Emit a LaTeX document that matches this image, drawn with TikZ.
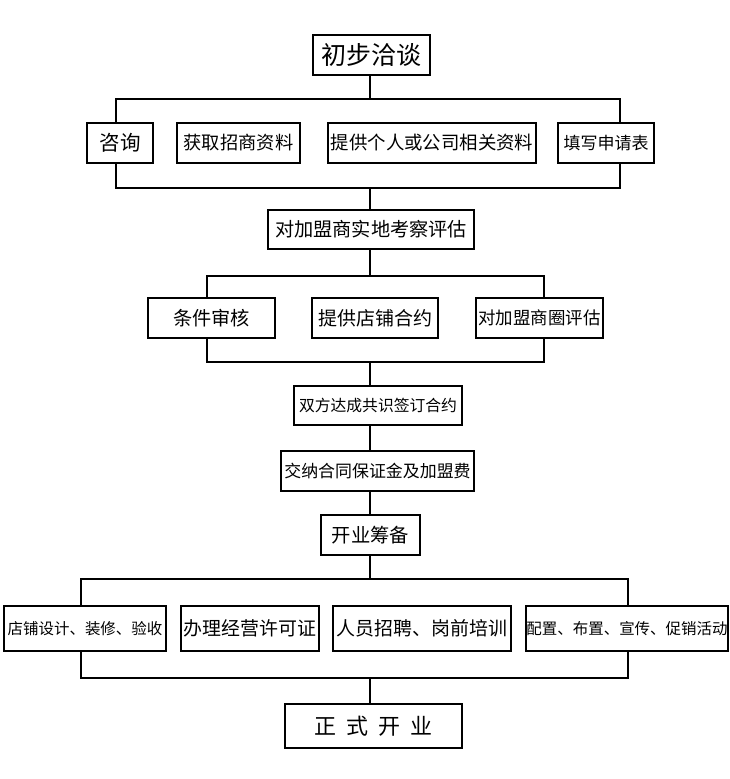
\documentclass[tikz,border=0pt]{standalone}
\usepackage{fontspec}
\newfontfamily\cjk{Noto Sans CJK SC}
\usetikzlibrary{positioning}

\begin{document}
\begin{tikzpicture}[
    x=0.75pt, y=-0.75pt,
    line width=1.5pt,
    box/.style={draw,inner sep=0pt,minimum height=30pt},
    sz/.style={font=\cjk\fontsize{#1}{#1}\selectfont}
]
\useasboundingbox (0,0) rectangle (730,779);

\node[box,sz=18.75,minimum width=87.75pt] (chubu) at (371.5,55) {初步洽谈};

\node[box,sz=15.4,minimum width=49.5pt] (zixun) at (120,143) {咨询};
\node[box,sz=13.7,minimum width=92.25pt] (huoqu) at (238.5,143) {获取招商资料};
\node[box,sz=13.8,minimum width=156pt] (tigong) at (432,143) {提供个人或公司相关资料};
\node[box,sz=12.75,minimum width=72pt] (tianxie) at (606,143) {填写申请表};

\node[box,sz=14.4,minimum width=154.5pt,minimum height=29.25pt] (kaocha) at (371,229.5) {对加盟商实地考察评估};

\node[box,sz=14.4,minimum width=95.25pt] (shenhe) at (211.5,318) {条件审核};
\node[box,sz=14.25,minimum width=94.5pt] (heyue) at (375,318) {提供店铺合约};
\node[box,sz=13.1,minimum width=95.25pt] (shangquan) at (539.5,318) {对加盟商圈评估};

\node[box,sz=11.85,minimum width=126pt,minimum height=29.25pt] (qianyue) at (378,405.5) {双方达成共识签订合约};
\node[box,sz=12.7,minimum width=144.75pt] (jiaona) at (377.5,471) {交纳合同保证金及加盟费};
\node[box,sz=14.5,minimum width=74.25pt] (choubei) at (370.5,535) {开业筹备};

\node[box,sz=11.6,minimum width=121.5pt,minimum height=33.75pt] (sheji) at (85,628.5) {店铺设计、装修、验收};
\node[box,sz=14.2,minimum width=103.5pt,minimum height=33.75pt] (xuke) at (250,628.5) {办理经营许可证};
\node[box,sz=14.2,minimum width=133.5pt,minimum height=33.75pt] (zhaopin) at (422,628.5) {人员招聘、岗前培训};
\node[box,sz=11.6,minimum width=148.5pt,minimum height=33.75pt] (cuxiao) at (627,628.5) {配置、布置、宣传、促销活动};

\node[box,sz=16.5,minimum width=132.75pt,minimum height=33pt] (kaiye) at (373.5,726) {正\hspace{0.45em}式\hspace{0.45em}开\hspace{0.45em}业};

\coordinate (a1) at (116,99);
\coordinate (a2) at (620,99);
\coordinate (a3) at (116,188);
\coordinate (a4) at (620,188);
\coordinate (b1) at (207,276);
\coordinate (b2) at (544,276);
\coordinate (b3) at (207,362);
\coordinate (b4) at (544,362);
\coordinate (c1) at (81,579);
\coordinate (c2) at (628,579);
\coordinate (c3) at (81,678);
\coordinate (c4) at (628,678);
\coordinate (m) at (370,0);

\draw (m |- chubu.south) -- (m |- a1);
\draw (a1 |- zixun.north) -- (a1) -- (a2) -- (a2 |- tianxie.north);
\draw (a3 |- zixun.south) -- (a3) -- (a4) -- (a4 |- tianxie.south);
\draw (m |- a3) -- (m |- kaocha.north);

\draw (m |- kaocha.south) -- (m |- b1);
\draw (b1 |- shenhe.north) -- (b1) -- (b2) -- (b2 |- shangquan.north);
\draw (b3 |- shenhe.south) -- (b3) -- (b4) -- (b4 |- shangquan.south);
\draw (m |- b3) -- (m |- qianyue.north);

\draw (m |- qianyue.south) -- (m |- jiaona.north);
\draw (m |- jiaona.south) -- (m |- choubei.north);
\draw (m |- choubei.south) -- (m |- c1);

\draw (c1 |- sheji.north) -- (c1) -- (c2) -- (c2 |- cuxiao.north);
\draw (c3 |- sheji.south) -- (c3) -- (c4) -- (c4 |- cuxiao.south);
\draw (m |- c3) -- (m |- kaiye.north);
\end{tikzpicture}
\end{document}
